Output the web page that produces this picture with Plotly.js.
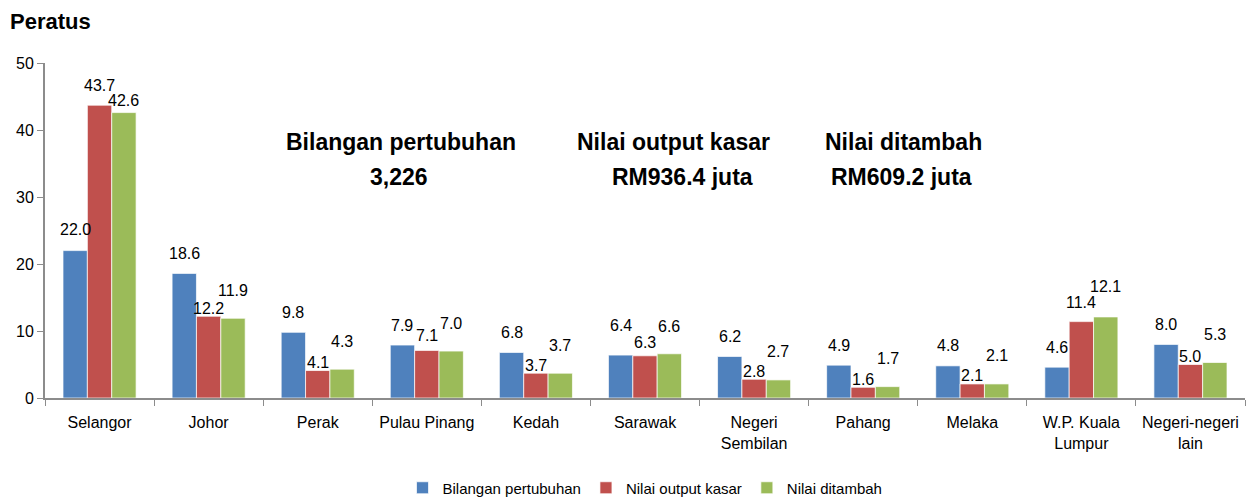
<!DOCTYPE html>
<html>
<head>
<meta charset="utf-8">
<script src="https://cdn.plot.ly/plotly-3.0.1.min.js"></script>
<style>html,body{margin:0;padding:0;background:#fff;}</style>
</head>
<body>
<div id="chart" style="width:1250px;height:500px;"></div>
<script>
const categories = ["Selangor", "Johor", "Perak", "Pulau Pinang", "Kedah", "Sarawak",
  "Negeri<br>Sembilan", "Pahang", "Melaka", "W.P. Kuala<br>Lumpur", "Negeri-negeri<br>lain"];
const bilanganPertubuhan = [22.0, 18.6, 9.8, 7.9, 6.8, 6.4, 6.2, 4.9, 4.8, 4.6, 8.0];
const nilaiOutputKasar   = [43.7, 12.2, 4.1, 7.1, 3.7, 6.3, 2.8, 1.6, 2.1, 11.4, 5.0];
const nilaiDitambah      = [42.6, 11.9, 4.3, 7.0, 3.7, 6.6, 2.7, 1.7, 2.1, 12.1, 5.3];
const seriesNames = ["Bilangan pertubuhan", "Nilai output kasar", "Nilai ditambah"];
const yTicks = [0, 10, 20, 30, 40, 50];
const summaryTitles = ["Bilangan pertubuhan", "Nilai output kasar", "Nilai ditambah"];
const summaryValues = ["3,226", "RM936.4 juta", "RM609.2 juta"];

const colors = ["#4F81BD", "#C0504D", "#9BBB59"];
const font = '"Liberation Sans", Arial, sans-serif';
const W = 1250, H = 500;
const margin = {l: 45, r: 5, t: 63, b: 102};
const plotH = H - margin.t - margin.b;
const plotW = W - margin.l - margin.r;
const bargap = 0.33;

// label lift above bar top (px), per series, with a few hand-placed exceptions as in the original
const labelLift = [20, 8, 28];
const labelLiftOverride = {0: [21, 20, 12], 3: [20, 15, 28], 5: [30, 13, 27], 9: [20, 19, 30]};

const allSeries = [bilanganPertubuhan, nilaiOutputKasar, nilaiDitambah];
const traces = allSeries.map((vals, i) => ({
  type: 'bar',
  name: seriesNames[i],
  x: categories,
  y: vals,
  marker: {color: colors[i], line: {color: 'rgba(255,255,255,0.7)', width: 1}},
  hoverinfo: 'x+y+name'
}));

const catW = plotW / categories.length;
const barW = catW * (1 - bargap) / allSeries.length;

const annotations = [];
allSeries.forEach((vals, i) => {
  vals.forEach((v, j) => {
    const lift = labelLiftOverride[j] ? labelLiftOverride[j][i] : labelLift[i];
    annotations.push({
      x: categories[j], y: v, xref: 'x', yref: 'y',
      text: v.toFixed(1), showarrow: false,
      xshift: (i - 1) * barW, yshift: lift,
      xanchor: 'center', yanchor: 'middle',
      font: {family: font, size: 16, color: '#000'}
    });
  });
});
const sumTitleX = [401, 673, 903];
const sumValueX = [399, 682, 902];
summaryTitles.forEach((t, k) => {
  annotations.push({
    xref: 'paper', yref: 'paper',
    x: (sumTitleX[k] - margin.l) / plotW, y: 1 - (142 - margin.t) / plotH,
    text: '<b>' + t + '</b>', showarrow: false, xanchor: 'center', yanchor: 'middle',
    font: {family: font, size: 23, color: '#000'}
  });
  annotations.push({
    xref: 'paper', yref: 'paper',
    x: (sumValueX[k] - margin.l) / plotW, y: 1 - (177 - margin.t) / plotH,
    text: '<b>' + summaryValues[k] + '</b>', showarrow: false, xanchor: 'center', yanchor: 'middle',
    font: {family: font, size: 23, color: '#000'}
  });
});

const layout = {
  width: W, height: H,
  margin: Object.assign({autoexpand: false}, margin),
  paper_bgcolor: '#fff', plot_bgcolor: '#fff',
  barmode: 'group', bargap: bargap, bargroupgap: 0,
  title: {
    text: '<b>Peratus</b>', xref: 'container', yref: 'container',
    x: 10 / W, xanchor: 'left', y: 1 - 21 / H, yanchor: 'middle',
    font: {family: font, size: 22, color: '#000'}
  },
  xaxis: {
    type: 'category', showline: true, linecolor: '#8c8c8c', linewidth: 2,
    ticks: 'outside', tickson: 'boundaries', ticklen: 6, tickcolor: '#8c8c8c', tickwidth: 1,
    showgrid: false, zeroline: false, tickangle: 0, automargin: false,
    ticklabelstandoff: 9,
    tickfont: {family: font, size: 16, color: '#000'}
  },
  yaxis: {
    range: [0, 50], tickvals: yTicks, showline: true, linecolor: '#8c8c8c', linewidth: 2,
    ticks: 'outside', ticklen: 6, tickcolor: '#8c8c8c', tickwidth: 1,
    showgrid: false, zeroline: false, automargin: false,
    tickfont: {family: font, size: 16, color: '#000'}
  },
  legend: {
    orientation: 'h', x: 0.5, xanchor: 'center',
    yref: 'container', y: (H - 488) / H, yanchor: 'middle',
    font: {family: font, size: 15, color: '#000'}, itemwidth: 30,
    traceorder: 'normal'
  },
  annotations: annotations,
  showlegend: true
};

Plotly.newPlot('chart', traces, layout, {displayModeBar: false, staticPlot: true});
</script>
</body>
</html>
